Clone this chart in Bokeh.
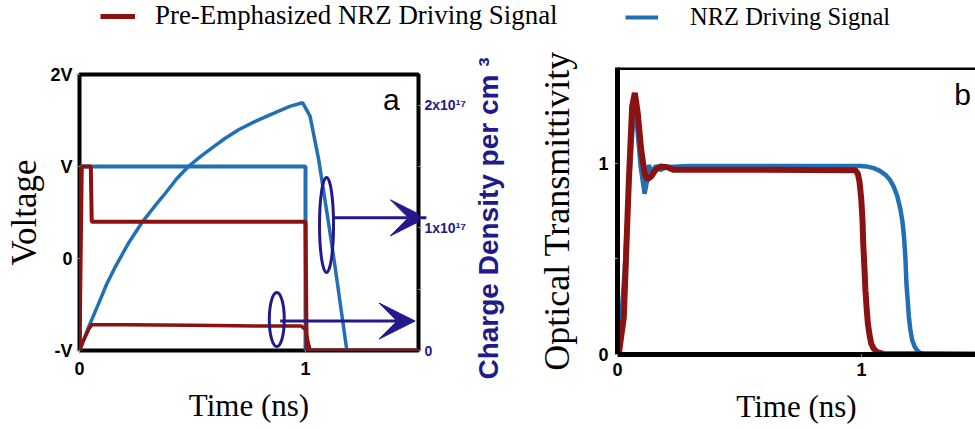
import math
import numpy as np
from bokeh.plotting import figure
from bokeh.models import (Range1d, LinearAxis, FixedTicker, Legend, LegendItem,
                          Arrow, VeeHead, Label, Span, Spacer)
from bokeh.layouts import column, row
from bokeh.embed import file_html
from bokeh.resources import INLINE

RED = "#8C1212"
BLUE = "#2170B4"
NAVY = "#22198A"

# ---------------- Panel a : driving voltage (units of V) ----------------
t_v_nrz = [0, 0, 1.0, 1.0, 1.5]
v_nrz = [-1, 1, 1, -1, -1]
t_v_pre = [0, 0.01, 0.05, 0.054, 1.0, 1.005, 1.5]
v_pre = [-1, 1, 1, 0.4, 0.4, -1, -1]

# charge density (x 1e17 per cm^3)
t_q_nrz = [0, 0.04, 0.084, 0.12, 0.158, 0.215, 0.275, 0.33, 0.379, 0.43, 0.482,
           0.535, 0.585, 0.645, 0.704, 0.78, 0.866, 0.93, 0.987, 1.02, 1.058,
           1.102, 1.131, 1.183]
q_nrz = [0, 0.19, 0.38, 0.54, 0.68, 0.87, 1.04, 1.17, 1.28, 1.40, 1.50,
         1.58, 1.65, 1.73, 1.80, 1.87, 1.94, 1.99, 2.02, 1.91, 1.56,
         1.04, 0.68, 0]
t_q_pre = [0, 0.02, 0.04, 0.054, 0.2, 0.5, 0.8, 0.98, 1.0, 1.01, 1.02, 1.5]
q_pre = [0, 0.09, 0.17, 0.21, 0.21, 0.205, 0.2, 0.2, 0.17, 0.08, 0, 0]

v_ticks = [-1, 0, 1, 2]
v_tick_labels = ["-V", "0", "V", "2V"]
q_ticks = [0, 1, 2]
q_tick_labels = ["0", "1x10\u00b9\u2077", "2x10\u00b9\u2077"]
charge_title = "Charge Density per cm \u00b3"

# ---------------- Panel b : optical transmittivity ----------------
t_tr_nrz = [0, 0.005, 0.03, 0.05, 0.068, 0.08, 0.095, 0.111, 0.12, 0.128, 0.142,
            0.156, 0.176, 0.2, 0.3, 0.6, 0.996, 1.02, 1.05, 1.075, 1.098, 1.115,
            1.132, 1.146, 1.16, 1.168, 1.174, 1.18, 1.184, 1.19, 1.194, 1.2,
            1.208, 1.218, 1.228, 1.24, 1.255, 1.3, 1.47]
tr_nrz = [0, 0, 0.45, 0.95, 1.3, 1.2, 0.98, 0.84, 0.9, 0.99, 0.95,
          0.985, 0.965, 0.98, 0.985, 0.985, 0.985, 0.983, 0.974, 0.96, 0.939, 0.915,
          0.877, 0.83, 0.755, 0.69, 0.615, 0.5, 0.371, 0.27, 0.196, 0.13,
          0.073, 0.04, 0.021, 0.008, 0.003, 0, 0]
t_tr_pre = [0, 0.005, 0.026, 0.046, 0.06, 0.071, 0.083, 0.097, 0.111, 0.122, 0.138,
            0.156, 0.176, 0.204, 0.231, 0.6, 0.975, 0.985, 0.992, 0.999, 1.004,
            1.007, 1.012, 1.016, 1.021, 1.026, 1.033, 1.04, 1.05, 1.064, 1.09, 1.47]
tr_pre = [0, 0, 0.196, 0.895, 1.297, 1.367, 1.262, 1.07, 0.947, 0.916, 0.93,
          0.965, 0.982, 0.979, 0.965, 0.965, 0.963, 0.945, 0.9, 0.81, 0.7,
          0.58, 0.45, 0.336, 0.24, 0.161, 0.1, 0.056, 0.03, 0.012, 0.003, 0]

legend_labels = ["Pre-Emphasized NRZ Driving Signal", "NRZ Driving Signal"]

TICK_FONT = "Liberation Sans"
TITLE_FONT = "Liberation Serif"

# ---------------- legend strip ----------------
leg = figure(width=975, height=40, x_range=Range1d(0, 1), y_range=Range1d(0, 1),
             output_backend="svg", toolbar_location=None,
             x_axis_location=None, y_axis_location=None, min_border=0)
leg.grid.visible = False
leg.outline_line_color = None
# legend-only renderers (their data lies outside the strip's visible range)
r_leg_pre = leg.line([5, 6], [5, 6], line_color=RED, line_width=5)
r_leg_nrz = leg.line([5, 6], [5, 6], line_color=BLUE, line_width=4)
for rend, lab, loc, gw, st, fs in [(r_leg_pre, legend_labels[0], (100, 9), 35, 20, "26.9px"),
                                   (r_leg_nrz, legend_labels[1], (625, 9), 33, 32, "24.5px")]:
    L = Legend(items=[LegendItem(label=lab, renderers=[rend])], location=loc,
               orientation="horizontal", margin=0, padding=0, spacing=0,
               glyph_width=gw, glyph_height=26, label_standoff=st,
               label_text_font=TITLE_FONT, label_text_font_size=fs,
               label_text_color="black", border_line_color=None,
               background_fill_alpha=0)
    leg.add_layout(L)

# ---------------- panel a ----------------
p1 = figure(width=469, height=382, x_range=Range1d(0, 1.5), y_range=Range1d(-1, 2),
            output_backend="svg", toolbar_location=None,
            min_border_left=79, min_border_right=50, min_border_top=27,
            min_border_bottom=79)
p1.extra_y_ranges = {"charge": Range1d(0, 2.25)}
p1.grid.visible = False
p1.outline_line_color = "black"
p1.outline_line_width = 4
p1.outline_line_alpha = 1

p1.line(t_v_nrz, v_nrz, line_color=BLUE, line_width=4)
p1.line(t_q_nrz, q_nrz, line_color=BLUE, line_width=3.5, y_range_name="charge")
p1.line(t_v_pre, v_pre, line_color=RED, line_width=4)
p1.line(t_q_pre, q_pre, line_color=RED, line_width=3.5, y_range_name="charge")

# annotations: ellipses and arrows pointing to the charge axis
ell_x = [1.093, 0.873]
ell_y = [0.364, -0.663]
ell_w = [14, 15]
ell_h = [95, 54]
p1.ellipse(x=ell_x, y=ell_y, width=ell_w, height=ell_h, width_units="screen",
           height_units="screen", fill_color=None, line_color=NAVY, line_width=3)
arr_x0 = [1.124, 0.888]
arr_x1 = [1.535, 1.485]
arr_y = [0.442, -0.68]
for xs, xe, yy in zip(arr_x0, arr_x1, arr_y):
    p1.add_layout(Arrow(end=VeeHead(size=36, fill_color=NAVY, line_color=NAVY),
                        x_start=xs, y_start=yy, x_end=xe, y_end=yy,
                        line_color=NAVY, line_width=3))
p1.add_layout(Label(x=1.38, y=1.73, text="a", text_font="Liberation Sans",
                    text_font_size="30px", text_align="center",
                    text_baseline="middle", text_color="black"))

ax = p1.xaxis[0]
ax.ticker = FixedTicker(ticks=[0, 1])
ax.axis_label = "Time (ns)"
ay = p1.yaxis[0]
ay.ticker = FixedTicker(ticks=v_ticks)
ay.major_label_overrides = dict(zip(v_ticks, v_tick_labels))
ay.axis_label = "Voltage"
for a in (ax, ay):
    a.axis_line_color = None
    a.major_tick_in = 0
    a.major_tick_out = 3
    a.major_tick_line_color = "#999999"
    a.minor_tick_line_color = None
    a.major_label_text_font = TICK_FONT
    a.major_label_text_font_style = "bold"
    a.major_label_text_font_size = "18px"
    a.major_label_text_color = "black"
    a.axis_label_text_font = TITLE_FONT
    a.axis_label_text_font_style = "normal"
    a.axis_label_text_color = "black"
ax.axis_label_text_font_size = "31px"
ax.major_label_standoff = 8
ax.axis_label_standoff = 10
ay.axis_label_text_font_size = "35px"
ay.major_label_standoff = 4
ay.axis_label_standoff = 3

ar = LinearAxis(y_range_name="charge",
                ticker=FixedTicker(ticks=q_ticks, minor_ticks=[0.5, 1.5]),
                major_label_overrides=dict(zip(q_ticks, q_tick_labels)))
ar.axis_line_color = None
ar.major_tick_in = 0
ar.major_tick_out = 3
ar.minor_tick_in = 0
ar.minor_tick_out = 3
ar.major_tick_line_color = "#9999bb"
ar.minor_tick_line_color = "#9999bb"
ar.major_label_text_font = TICK_FONT
ar.major_label_text_font_style = "bold"
ar.major_label_text_font_size = "14px"
ar.major_label_text_color = NAVY
ar.major_label_standoff = 3
p1.add_layout(ar, "right")

# narrow strip carrying the charge-axis title (left-side axis label reads bottom-to-top)
mid = figure(width=51, height=389, x_range=Range1d(0, 1), y_range=Range1d(0, 1),
             output_backend="svg", toolbar_location=None, x_axis_location=None,
             min_border_left=39, min_border_right=0, min_border_top=20,
             min_border_bottom=53)
mid.grid.visible = False
mid.outline_line_color = None
my = mid.yaxis[0]
my.ticker = FixedTicker(ticks=[])
my.axis_line_color = None
my.major_tick_out = 0
my.major_tick_in = 0
my.minor_tick_out = 0
my.minor_tick_in = 0
my.major_label_standoff = 0
my.axis_label = charge_title
my.axis_label_text_font = TICK_FONT
my.axis_label_text_font_style = "bold"
my.axis_label_text_font_size = "28px"
my.axis_label_text_color = NAVY
my.axis_label_standoff = 5

# ---------------- panel b ----------------
p2 = figure(width=455, height=389, x_range=Range1d(0, 1.467), y_range=Range1d(0, 1.5),
            output_backend="svg", toolbar_location=None,
            min_border_left=97, min_border_right=0, min_border_top=27,
            min_border_bottom=75)
p2.grid.visible = False
p2.outline_line_color = None

p2.line(t_tr_nrz, tr_nrz, line_color=BLUE, line_width=4.5)
p2.line(t_tr_pre, tr_pre, line_color=RED, line_width=6)
p2.add_layout(Label(x=1.414, y=1.358, text="b", text_font="Liberation Sans",
                    text_font_size="30px", text_align="center",
                    text_baseline="middle", text_color="black"))

bx = p2.xaxis[0]
bx.ticker = FixedTicker(ticks=[0, 1])
bx.axis_label = "Time (ns)"
by = p2.yaxis[0]
by.ticker = FixedTicker(ticks=[0, 1], minor_ticks=[0.5])
by.axis_label = "Optical Transmittivity"
for a in (bx, by):
    a.axis_line_color = "black"
    a.axis_line_width = 5
    a.major_tick_in = 0
    a.major_tick_out = 3
    a.minor_tick_in = 0
    a.minor_tick_out = 3
    a.major_tick_line_color = "#999999"
    a.minor_tick_line_color = "#999999"
    a.major_label_text_font = TICK_FONT
    a.major_label_text_font_style = "bold"
    a.major_label_text_font_size = "18px"
    a.major_label_text_color = "black"
    a.axis_label_text_font = TITLE_FONT
    a.axis_label_text_font_style = "normal"
    a.axis_label_text_color = "black"
bx.minor_tick_line_color = None
bx.axis_label_text_font_size = "31px"
bx.major_label_standoff = 5
bx.axis_label_standoff = 10
by.axis_label_text_font_size = "36px"
by.major_label_standoff = 6
by.axis_label_standoff = 18

# top border of the (open-ended) frame of panel b
p2.add_layout(Span(location=1.5, dimension="width", line_color="black", line_width=5))

layout = column(leg, row(column(Spacer(width=469, height=7), p1), column(mid), p2))
open("out.html", "w").write(file_html(layout, INLINE))
